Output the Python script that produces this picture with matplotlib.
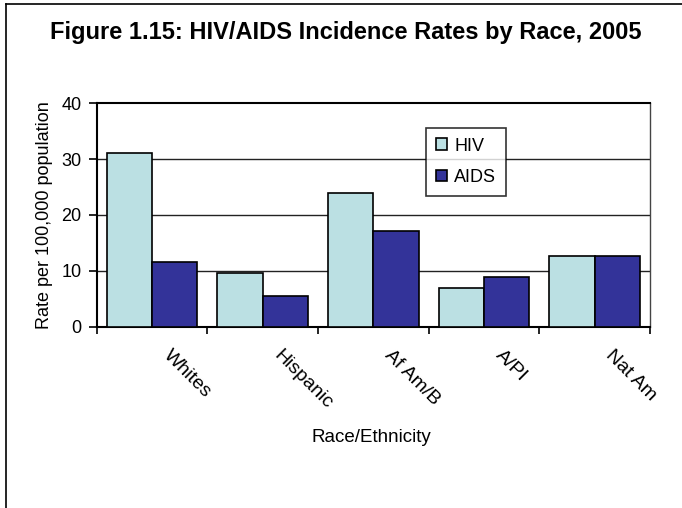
import matplotlib
matplotlib.use("Agg")
import matplotlib.pyplot as plt
import matplotlib.transforms as mtrans
import numpy as np

categories = ["Whites", "Hispanic", "Af Am/B", "A/PI", "Nat Am"]
hiv = [31.1, 9.6, 23.9, 6.9, 12.7]
aids = [11.6, 5.5, 17.1, 8.9, 12.7]
yticks = [0, 10, 20, 30, 40]

plt.rcParams['font.family'] = ['Liberation Sans', 'DejaVu Sans']

fig = plt.figure(figsize=(6.82, 5.08), dpi=100)
ax = fig.add_axes([0.1418, 0.3569, 0.953 - 0.1418, 0.797 - 0.3569])

x = np.arange(len(categories))
w = 0.41
ax.bar(x - w / 2, hiv, width=w, color="#BBE0E3", edgecolor="black", linewidth=1.2, label="HIV", zorder=3)
ax.bar(x + w / 2, aids, width=w, color="#333399", edgecolor="black", linewidth=1.2, label="AIDS", zorder=3)

ax.set_xlim(-0.5, len(categories) - 0.5)
ax.set_ylim(0, 40)
ax.set_yticks(yticks)
ax.set_yticklabels([str(v) for v in yticks], fontsize=13)
for v in yticks[1:-1]:
    ax.axhline(v, color="#222222", linewidth=1.0, zorder=1)

ax.set_xticks(x)
ax.set_xticklabels(categories, fontsize=14, rotation=-45, ha="left", va="top", rotation_mode="anchor")
ax.set_xticks(np.arange(len(categories) + 1) - 0.5, minor=True)
ax.tick_params(axis="x", which="major", length=0, pad=0)
ax.tick_params(axis="x", which="minor", length=5, width=1.2, direction="out")
ax.tick_params(axis="y", length=6, width=1.2, direction="out", pad=5)

offset = mtrans.ScaledTranslation(20 / 100, -20 / 100, fig.dpi_scale_trans)
for lab in ax.get_xticklabels():
    lab.set_transform(lab.get_transform() + offset)

for s in ["left", "bottom", "top"]:
    ax.spines[s].set_linewidth(1.5)
    ax.spines[s].set_color("black")
ax.spines["right"].set_linewidth(1.0)
ax.spines["right"].set_color("#444444")

ax.set_ylabel("Rate per 100,000 population", fontsize=13, labelpad=6)
ax.set_xlabel("Race/Ethnicity", fontsize=13.5)
ax.xaxis.set_label_coords(0.497, (327 - 438) / (327 - 103))
ax.xaxis.label.set_va("center")

leg = ax.legend(loc="upper left", bbox_to_anchor=((426.5 - 96.7) / (650 - 96.7), (327 - 127.5) / (327 - 103)),
                fontsize=13, frameon=True, fancybox=False, edgecolor="black",
                handlelength=0.6, handleheight=0.6, handletextpad=0.4, borderpad=0.55,
                labelspacing=0.8, borderaxespad=0)
leg.get_frame().set_linewidth(1.2)

fig.text(0.507, 1 - 33 / 508, "Figure 1.15: HIV/AIDS Incidence Rates by Race, 2005",
         ha="center", va="center", fontsize=17, fontweight="bold")

# outer frame (left and top edges visible)
fig.add_artist(plt.Line2D([6 / 682, 6 / 682], [0, 1 - 4 / 508], transform=fig.transFigure, color="black", linewidth=1.2))
fig.add_artist(plt.Line2D([6 / 682, 1], [1 - 4 / 508, 1 - 4 / 508], transform=fig.transFigure, color="black", linewidth=1.2))

fig.savefig("out.png", dpi=100)
